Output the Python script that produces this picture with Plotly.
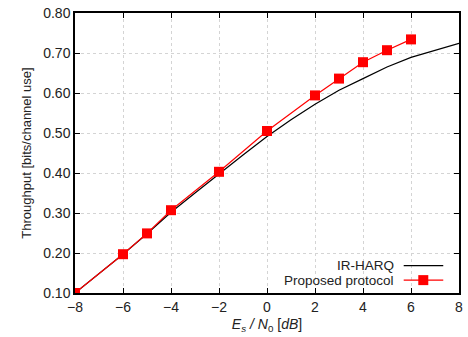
import plotly.graph_objects as go

# Data
snr_ir = [-8, -7, -6, -5, -4, -3, -2, -1, 0, 1, 2, 3, 4, 5, 6, 7, 8]
thr_ir = [0.100, 0.148, 0.197, 0.248, 0.302, 0.350, 0.398, 0.445, 0.491, 0.533, 0.572, 0.607, 0.636, 0.665, 0.689, 0.707, 0.724]

snr_prop = [-8, -6, -5, -4, -2, 0, 2, 3, 4, 5, 6]
thr_prop = [0.100, 0.197, 0.249, 0.307, 0.403, 0.505, 0.594, 0.636, 0.677, 0.707, 0.734]

x_ticks = [-8, -6, -4, -2, 0, 2, 4, 6, 8]
x_tick_labels = ["\u22128", "\u22126", "\u22124", "\u22122", "0", "2", "4", "6", "8"]
y_ticks = [0.1, 0.2, 0.3, 0.4, 0.5, 0.6, 0.7, 0.8]
y_tick_labels = ["0.10", "0.20", "0.30", "0.40", "0.50", "0.60", "0.70", "0.80"]

FONT = "Liberation Sans, Arial, sans-serif"
TXT = "#222"

fig = go.Figure()
fig.add_trace(go.Scatter(x=snr_ir, y=thr_ir, mode="lines", name="IR-HARQ",
                         line=dict(color="black", width=1.2), showlegend=False))
fig.add_trace(go.Scatter(x=snr_prop, y=thr_prop, mode="lines+markers", name="Proposed protocol",
                         line=dict(color="#ff0000", width=1.2),
                         marker=dict(symbol="square", size=10, color="#ff0000"),
                         showlegend=False))

axis_common = dict(showline=True, linecolor="black", linewidth=1.5, mirror="ticks",
                   ticks="inside", ticklen=5, tickcolor="black",
                   showgrid=True, gridcolor="#d4d4d4", griddash="dot", gridwidth=1,
                   zeroline=False, tickfont=dict(family=FONT, size=14, color=TXT))

fig.update_xaxes(range=[-8, 8], tickvals=x_ticks, ticktext=x_tick_labels,
                 title=dict(text="<i>E</i><sub><i>s</i></sub><i> / N</i><sub>0</sub> [<i>dB</i>]",
                            font=dict(family=FONT, size=14, color=TXT), standoff=6),
                 **axis_common)
fig.update_yaxes(range=[0.1, 0.8], tickvals=y_ticks, ticktext=y_tick_labels,
                 title=dict(text="Throughput [bits/channel use]",
                            font=dict(family=FONT, size=13, color=TXT), standoff=9),
                 **axis_common)

# Legend (gnuplot style: text right, sample to the right)
fig.add_annotation(xref="paper", yref="paper", x=0.836, y=0.098, text="IR-HARQ",
                   showarrow=False, xanchor="right", yanchor="middle",
                   font=dict(family=FONT, size=13.5, color=TXT))
fig.add_annotation(xref="paper", yref="paper", x=0.836, y=0.046, text="Proposed protocol",
                   showarrow=False, xanchor="right", yanchor="middle",
                   font=dict(family=FONT, size=13.5, color=TXT))
fig.add_shape(type="line", xref="paper", yref="paper", x0=0.856, x1=0.959, y0=0.098, y1=0.098,
              line=dict(color="black", width=1.2))
fig.add_shape(type="line", xref="paper", yref="paper", x0=0.856, x1=0.959, y0=0.046, y1=0.046,
              line=dict(color="#ff0000", width=1.2))
fig.add_trace(go.Scatter(x=[0.907], y=[0.046], xaxis="x2", yaxis="y2", mode="markers",
                         marker=dict(symbol="square", size=10, color="#ff0000"),
                         showlegend=False, hoverinfo="skip"))
fig.update_layout(
    xaxis2=dict(range=[0, 1], overlaying="x", visible=False, anchor="y2"),
    yaxis2=dict(range=[0, 1], overlaying="y", visible=False, anchor="x2"),
)

fig.update_layout(width=468, height=337, margin=dict(l=75, r=5, t=13, b=44),
                  plot_bgcolor="white", paper_bgcolor="white", showlegend=False)

fig.write_html("out.html", config={"displayModeBar": False},
               post_script="document.body.style.margin='0';document.body.style.padding='0';")
